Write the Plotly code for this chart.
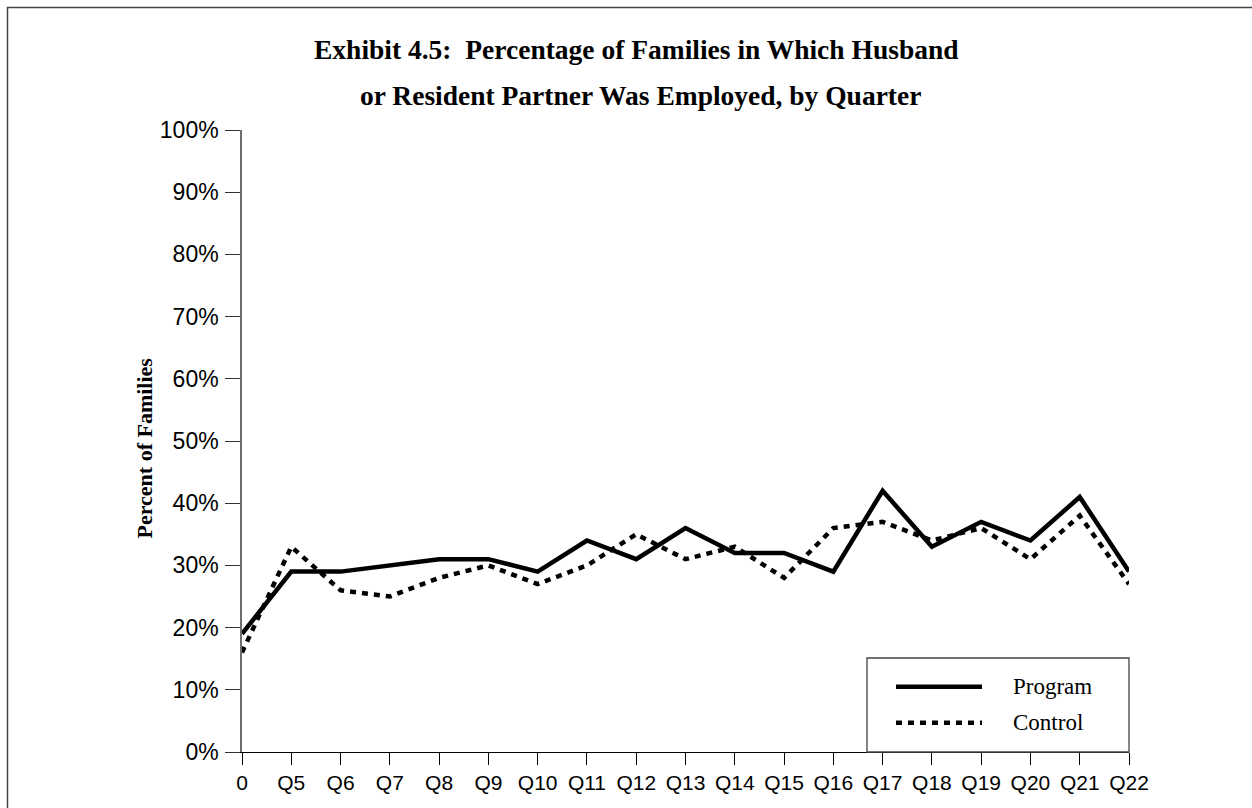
import plotly.graph_objects as go

quarters = ["0", "Q5", "Q6", "Q7", "Q8", "Q9", "Q10", "Q11", "Q12", "Q13",
            "Q14", "Q15", "Q16", "Q17", "Q18", "Q19", "Q20", "Q21", "Q22"]
program = [19, 29, 29, 30, 31, 31, 29, 34, 31, 36, 32, 32, 29, 42, 33, 37, 34, 41, 29]
control = [16, 33, 26, 25, 28, 30, 27, 30, 35, 31, 33, 28, 36, 37, 34, 36, 31, 38, 27]
y_ticks = [0, 10, 20, 30, 40, 50, 60, 70, 80, 90, 100]
series_names = ["Program", "Control"]
title_lines = ["Exhibit 4.5:  Percentage of Families in Which Husband",
               "or Resident Partner Was Employed, by Quarter"]
y_title = "Percent of Families"

W, H = 1252, 808
L, R, T, B = 242, 123, 130, 56
PW, PH = W - L - R, H - T - B

def px_x(p):
    return (p - L) / PW

def px_y(p):
    return (H - B - p) / PH

SERIF = "Liberation Serif, Times New Roman, serif"
SANS = "Liberation Sans, Arial, sans-serif"

xs = list(range(len(quarters)))

fig = go.Figure()
fig.add_trace(go.Scatter(x=xs, y=program, mode="lines", name=series_names[0],
                         line=dict(color="black", width=4.5), showlegend=False))
fig.add_trace(go.Scatter(x=xs, y=control, mode="lines", name=series_names[1],
                         line=dict(color="black", width=4.5, dash="6px,6px"),
                         showlegend=False))

fig.update_layout(
    width=W, height=H,
    margin=dict(l=L, r=R, t=T, b=B, pad=0),
    paper_bgcolor="white", plot_bgcolor="white",
    xaxis=dict(range=[0, len(quarters) - 1], tickmode="array", tickvals=xs,
               ticktext=quarters, showgrid=False, zeroline=False,
               showline=True, linecolor="black", linewidth=1.3,
               ticks="outside", ticklen=12, tickcolor="black", tickwidth=1.3,
               tickfont=dict(family=SANS, size=21, color="black")),
    yaxis=dict(range=[0, 100], tickmode="array", tickvals=y_ticks,
               ticktext=[f"{v}%" for v in y_ticks], showgrid=False,
               zeroline=False, showline=True, linecolor="#6e6e6e", linewidth=1.5,
               ticks="outside", ticklen=15, tickcolor="#333", tickwidth=1.3,
               ticklabelstandoff=2,
               tickfont=dict(family=SANS, size=23, color="black")),
)

annotations = []
# Title lines
annotations.append(dict(text="<b>" + title_lines[0] + "</b>", xref="paper", yref="paper",
                        x=px_x(636), y=px_y(50), xanchor="center", yanchor="middle",
                        showarrow=False, font=dict(family=SERIF, size=27.5, color="black")))
annotations.append(dict(text="<b>" + title_lines[1] + "</b>", xref="paper", yref="paper",
                        x=px_x(640), y=px_y(95), xanchor="center", yanchor="middle",
                        showarrow=False, font=dict(family=SERIF, size=27.5, color="black")))
# Y title
annotations.append(dict(text="<b>" + y_title + "</b>", xref="paper", yref="paper",
                        x=px_x(143.5), y=px_y(448), xanchor="center", yanchor="middle",
                        textangle=-90, showarrow=False,
                        font=dict(family=SERIF, size=22, color="black")))
# Legend labels
annotations.append(dict(text=series_names[0], xref="paper", yref="paper",
                        x=px_x(1011), y=px_y(686.7), xanchor="left", yanchor="middle",
                        showarrow=False, font=dict(family=SERIF, size=23, color="black")))
annotations.append(dict(text=series_names[1], xref="paper", yref="paper",
                        x=px_x(1011), y=px_y(722.7), xanchor="left", yanchor="middle",
                        showarrow=False, font=dict(family=SERIF, size=23, color="black")))

shapes = []
# Outer frame
shapes.append(dict(type="rect", xref="paper", yref="paper",
                   x0=px_x(7.5), x1=px_x(1265), y0=px_y(7.5), y1=px_y(830),
                   line=dict(color="#444", width=1.5), fillcolor="rgba(0,0,0,0)"))
# Legend box
shapes.append(dict(type="rect", xref="paper", yref="paper",
                   x0=px_x(867), x1=1.0, y0=0.0, y1=px_y(658),
                   line=dict(color="#444", width=1.3), fillcolor="white", layer="above"))
shapes.append(dict(type="line", xref="paper", yref="paper",
                   x0=px_x(896), x1=px_x(982), y0=px_y(686.7), y1=px_y(686.7),
                   line=dict(color="black", width=4.5)))
shapes.append(dict(type="line", xref="paper", yref="paper",
                   x0=px_x(896), x1=px_x(982), y0=px_y(722.7), y1=px_y(722.7),
                   line=dict(color="black", width=4.5, dash="6px,6px")))

fig.update_layout(annotations=annotations, shapes=shapes)

fig.write_html(
    "out.html",
    config={"displayModeBar": False},
    post_script="document.body.style.margin='0';"
                "document.body.style.overflow='hidden';"
                "document.documentElement.style.overflow='hidden';",
)
